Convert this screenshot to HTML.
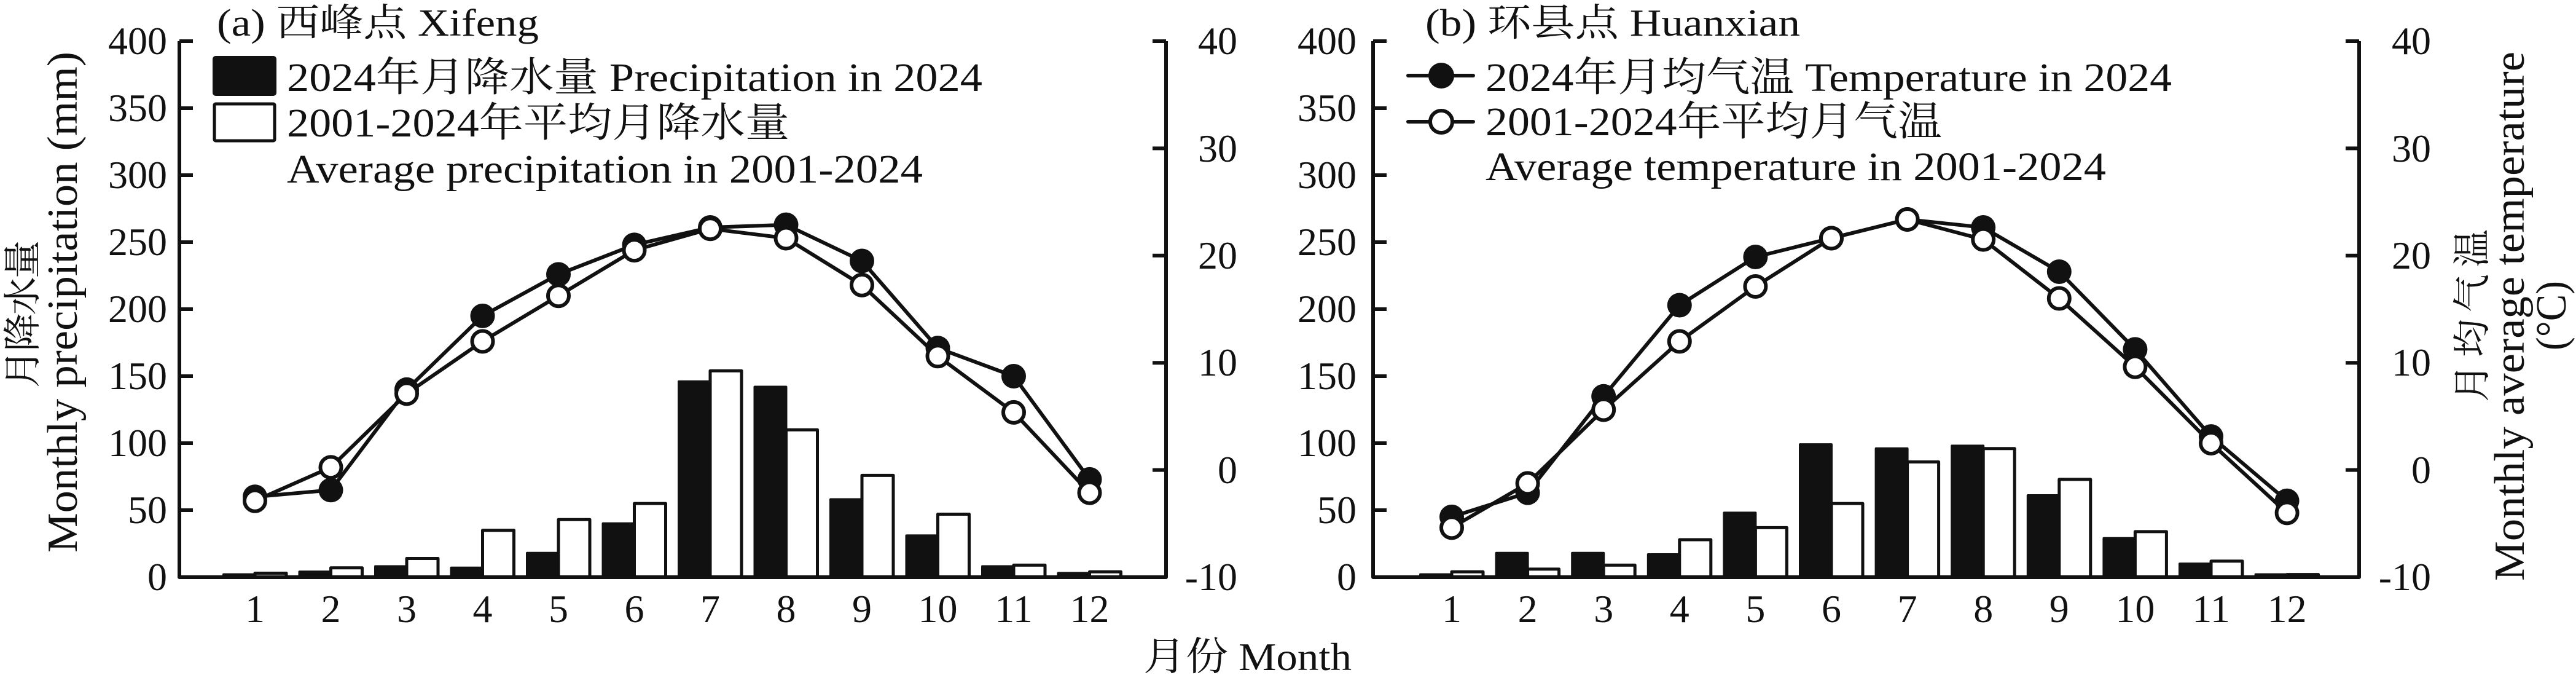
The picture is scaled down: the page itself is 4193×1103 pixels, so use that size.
<!DOCTYPE html>
<html><head><meta charset="utf-8">
<style>
html,body{margin:0;padding:0;background:#fff;}
svg{display:block;}
text{font-family:"Liberation Serif","Noto Serif CJK SC","Noto Sans CJK SC",serif;fill:#111;}
</style></head>
<body>
<svg id="s" width="4193" height="1103" viewBox="0 0 4193 1103" xmlns="http://www.w3.org/2000/svg">
<g id="shapes"></g>
<!-- Left plot texts -->
<text x="353" y="58" font-size="62" textLength="524" lengthAdjust="spacingAndGlyphs">(a) 西峰点 Xifeng</text>
<text x="467" y="148" font-size="66" textLength="1132" lengthAdjust="spacingAndGlyphs">2024年月降水量 Precipitation in 2024</text>
<text x="467" y="222" font-size="66" textLength="818" lengthAdjust="spacingAndGlyphs">2001-2024年平均月降水量</text>
<text x="467" y="297" font-size="66" textLength="1035" lengthAdjust="spacingAndGlyphs">Average precipitation in 2001-2024</text>
<g font-size="64" text-anchor="end">
<text x="272" y="960">0</text><text x="272" y="851">50</text><text x="272" y="742">100</text><text x="272" y="633">150</text>
<text x="272" y="524">200</text><text x="272" y="415">250</text><text x="272" y="306">300</text><text x="272" y="197">350</text><text x="272" y="88">400</text>
<text x="2014" y="960">-10</text><text x="2014" y="786">0</text><text x="2014" y="611">10</text><text x="2014" y="437">20</text><text x="2014" y="263">30</text><text x="2014" y="88">40</text>
</g>
<g font-size="64" text-anchor="middle">
<text x="415" y="1012">1</text><text x="538.5" y="1012">2</text><text x="662" y="1012">3</text><text x="785.5" y="1012">4</text><text x="909" y="1012">5</text><text x="1032.5" y="1012">6</text>
<text x="1156" y="1012">7</text><text x="1279.5" y="1012">8</text><text x="1403" y="1012">9</text><text x="1526.5" y="1012">10</text><text x="1650" y="1012">11</text><text x="1773.5" y="1012">12</text>
</g>
<text transform="translate(58,631) rotate(-90)" font-size="62" textLength="240" lengthAdjust="spacing">月降水量</text>
<text transform="translate(125,899) rotate(-90)" font-size="70" textLength="815" lengthAdjust="spacingAndGlyphs">Monthly precipitation (mm)</text>
<text x="1861" y="1090" font-size="64" textLength="339" lengthAdjust="spacingAndGlyphs">月份 Month</text>
<!-- Right plot texts -->
<text x="2320" y="58" font-size="62" textLength="610" lengthAdjust="spacingAndGlyphs">(b) 环县点 Huanxian</text>
<text x="2418" y="148" font-size="66" textLength="1117" lengthAdjust="spacingAndGlyphs">2024年月均气温 Temperature in 2024</text>
<text x="2418" y="220" font-size="66" textLength="743" lengthAdjust="spacingAndGlyphs">2001-2024年平均月气温</text>
<text x="2418" y="293" font-size="66" textLength="1010" lengthAdjust="spacingAndGlyphs">Average temperature in 2001-2024</text>
<g font-size="64" text-anchor="end">
<text x="2208" y="960">0</text><text x="2208" y="851">50</text><text x="2208" y="742">100</text><text x="2208" y="633">150</text>
<text x="2208" y="524">200</text><text x="2208" y="415">250</text><text x="2208" y="306">300</text><text x="2208" y="197">350</text><text x="2208" y="88">400</text>
<text x="3957" y="960">-10</text><text x="3957" y="786">0</text><text x="3957" y="611">10</text><text x="3957" y="437">20</text><text x="3957" y="263">30</text><text x="3957" y="88">40</text>
</g>
<g font-size="64" text-anchor="middle">
<text x="2363" y="1012">1</text><text x="2486.6" y="1012">2</text><text x="2610.2" y="1012">3</text><text x="2733.8" y="1012">4</text><text x="2857.4" y="1012">5</text><text x="2981" y="1012">6</text>
<text x="3104.6" y="1012">7</text><text x="3228.2" y="1012">8</text><text x="3351.8" y="1012">9</text><text x="3475.4" y="1012">10</text><text x="3599" y="1012">11</text><text x="3722.6" y="1012">12</text>
</g>
<text transform="translate(4045,654) rotate(-90)" font-size="62" textLength="281" lengthAdjust="spacing">月均气温</text>
<text transform="translate(4108,945) rotate(-90)" font-size="70" textLength="861" lengthAdjust="spacingAndGlyphs">Monthly average temperature</text>
<text transform="translate(4176,570) rotate(-90)" font-size="70" textLength="113" lengthAdjust="spacingAndGlyphs">(°C)</text>
</svg>
<script>
(function(){
var g=document.getElementById('shapes'),NS='http://www.w3.org/2000/svg';
function el(t,a){var e=document.createElementNS(NS,t);for(var k in a)e.setAttribute(k,a[k]);g.appendChild(e);return e;}
var Y0=939,K=2.18;
function plot(ax,rx,m1,sp,b1,b2,l1,l2){
  // bars
  for(var i=0;i<12;i++){var c=m1+i*sp;
    var h1=b1[i]*K,h2=b2[i]*K;
    el('rect',{x:c-51,y:Y0-h1,width:51,height:h1,fill:'#111',stroke:'#111','stroke-width':4,'stroke-linejoin':'round'});
    el('rect',{x:c,y:Y0-h2,width:51,height:h2,fill:'#fff',stroke:'#111','stroke-width':5,'stroke-linejoin':'round'});
  }
  // axes
  el('path',{d:'M'+ax+' 67 V'+Y0+' H'+rx+' V67',fill:'none',stroke:'#111','stroke-width':6,'stroke-linejoin':'round'});
  for(var v=0;v<=400;v+=50){var y=Y0-v*K;el('line',{x1:ax,y1:y,x2:ax+22,y2:y,stroke:'#111','stroke-width':6});}
  for(var t=0;t<=5;t++){var y=Y0-t*174.4;el('line',{x1:rx,y1:y,x2:rx-22,y2:y,stroke:'#111','stroke-width':6});}
  // lines
  function pts(a){return a.map(function(v,i){return (m1+i*sp)+','+(Y0-v*K);}).join(' ');}
  el('polyline',{points:pts(l1),fill:'none',stroke:'#111','stroke-width':6,'stroke-linejoin':'round'});
  el('polyline',{points:pts(l2),fill:'none',stroke:'#111','stroke-width':6,'stroke-linejoin':'round'});
  l1.forEach(function(v,i){el('circle',{cx:m1+i*sp,cy:Y0-v*K,r:20,fill:'#111'});});
  l2.forEach(function(v,i){el('circle',{cx:m1+i*sp,cy:Y0-v*K,r:17,fill:'#fff',stroke:'#111','stroke-width':6});});
}
plot(292,1898,415,123.5,
 [2,4,8,7,18,40,146,142,58,31,8,3],
 [3,7,14,35,43,55,154,110,76,47,9,4],
 [60,65,140,195,226,248,261,263,236,171,150,73],
 [57,82,137,176,210,244,260,253,218,165,123,63]);
plot(2235,3840,2363,123.6,
 [2,18,18,17,48,99,96,98,61,29,10,2],
 [4,6,9,28,37,55,86,96,73,34,12,2],
 [45,63,135,203,239,253,267,261,228,170,105,57],
 [37,70,125,176,217,253,267,252,208,157,100,48]);
// legends
el('rect',{x:348,y:93,width:100,height:61,fill:'#111',stroke:'#111','stroke-width':4,rx:3});
el('rect',{x:349,y:169,width:98,height:60,fill:'#fff',stroke:'#111','stroke-width':5,rx:2});
el('line',{x1:2292,y1:123,x2:2398,y2:123,stroke:'#111','stroke-width':6,'stroke-linecap':'round'});
el('circle',{cx:2346,cy:123,r:21,fill:'#111'});
el('line',{x1:2292,y1:198,x2:2398,y2:198,stroke:'#111','stroke-width':6,'stroke-linecap':'round'});
el('circle',{cx:2346,cy:198,r:18,fill:'#fff',stroke:'#111','stroke-width':6});
})();
</script>
</body></html>
